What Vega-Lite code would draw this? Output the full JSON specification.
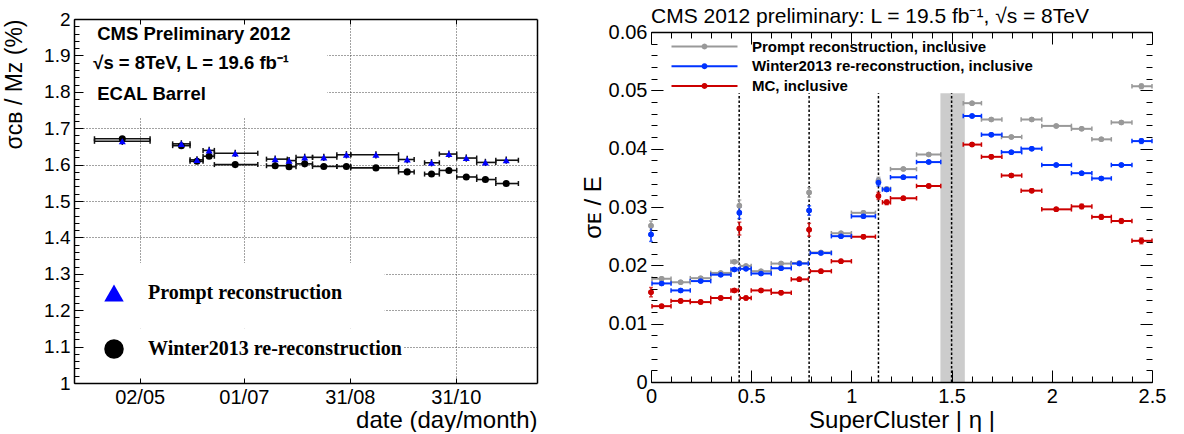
{
  "$schema": "https://vega.github.io/schema/vega-lite/v6.json",
  "background": "white",
  "padding": {"left": 3, "top": 6, "right": 0, "bottom": 0},
  "spacing": 44,
  "align": "none",
  "resolve": {
    "scale": {"color": "independent", "shape": "independent"},
    "legend": {"color": "independent", "shape": "independent"}
  },
  "datasets": {
    "timeline": [
      {"recon": "Winter2013 re-reconstruction", "date": "2012-04-22", "lo": "2012-04-06", "hi": "2012-05-08", "value": 1.671, "err": 0.005},
      {"recon": "Winter2013 re-reconstruction", "date": "2012-05-26", "lo": "2012-05-21", "hi": "2012-05-31", "value": 1.652, "err": 0.005},
      {"recon": "Winter2013 re-reconstruction", "date": "2012-06-04", "lo": "2012-05-31", "hi": "2012-06-07T12:00Z", "value": 1.609, "err": 0.005},
      {"recon": "Winter2013 re-reconstruction", "date": "2012-06-11", "lo": "2012-06-07T12:00Z", "hi": "2012-06-14", "value": 1.623, "err": 0.005},
      {"recon": "Winter2013 re-reconstruction", "date": "2012-06-26", "lo": "2012-06-14", "hi": "2012-07-09", "value": 1.600, "err": 0.005},
      {"recon": "Winter2013 re-reconstruction", "date": "2012-07-19", "lo": "2012-07-14", "hi": "2012-07-26", "value": 1.597, "err": 0.005},
      {"recon": "Winter2013 re-reconstruction", "date": "2012-07-27", "lo": "2012-07-26", "hi": "2012-07-31", "value": 1.594, "err": 0.005},
      {"recon": "Winter2013 re-reconstruction", "date": "2012-08-05", "lo": "2012-07-31", "hi": "2012-08-09T12:00Z", "value": 1.602, "err": 0.005},
      {"recon": "Winter2013 re-reconstruction", "date": "2012-08-16", "lo": "2012-08-09T12:00Z", "hi": "2012-08-23T12:00Z", "value": 1.595, "err": 0.005},
      {"recon": "Winter2013 re-reconstruction", "date": "2012-08-29", "lo": "2012-08-23T12:00Z", "hi": "2012-08-31T12:00Z", "value": 1.595, "err": 0.005},
      {"recon": "Winter2013 re-reconstruction", "date": "2012-09-15", "lo": "2012-08-31T12:00Z", "hi": "2012-09-28", "value": 1.591, "err": 0.005},
      {"recon": "Winter2013 re-reconstruction", "date": "2012-10-03", "lo": "2012-09-28", "hi": "2012-10-07", "value": 1.580, "err": 0.005},
      {"recon": "Winter2013 re-reconstruction", "date": "2012-10-17", "lo": "2012-10-13", "hi": "2012-10-21T12:00Z", "value": 1.574, "err": 0.005},
      {"recon": "Winter2013 re-reconstruction", "date": "2012-10-27", "lo": "2012-10-21T12:00Z", "hi": "2012-10-31T12:00Z", "value": 1.584, "err": 0.005},
      {"recon": "Winter2013 re-reconstruction", "date": "2012-11-06", "lo": "2012-10-31T12:00Z", "hi": "2012-11-12", "value": 1.566, "err": 0.005},
      {"recon": "Winter2013 re-reconstruction", "date": "2012-11-17", "lo": "2012-11-12", "hi": "2012-11-23", "value": 1.559, "err": 0.005},
      {"recon": "Winter2013 re-reconstruction", "date": "2012-11-29", "lo": "2012-11-23", "hi": "2012-12-06", "value": 1.548, "err": 0.005},
      {"recon": "Prompt reconstruction", "date": "2012-04-22", "lo": "2012-04-06", "hi": "2012-05-08", "value": 1.664, "err": 0.01},
      {"recon": "Prompt reconstruction", "date": "2012-05-26", "lo": "2012-05-21", "hi": "2012-05-31", "value": 1.657, "err": 0.01},
      {"recon": "Prompt reconstruction", "date": "2012-06-04", "lo": "2012-05-31", "hi": "2012-06-07T12:00Z", "value": 1.613, "err": 0.01},
      {"recon": "Prompt reconstruction", "date": "2012-06-11", "lo": "2012-06-07T12:00Z", "hi": "2012-06-14", "value": 1.639, "err": 0.01},
      {"recon": "Prompt reconstruction", "date": "2012-06-26", "lo": "2012-06-14", "hi": "2012-07-09", "value": 1.631, "err": 0.01},
      {"recon": "Prompt reconstruction", "date": "2012-07-19", "lo": "2012-07-14", "hi": "2012-07-26", "value": 1.615, "err": 0.01},
      {"recon": "Prompt reconstruction", "date": "2012-07-27", "lo": "2012-07-26", "hi": "2012-07-31", "value": 1.611, "err": 0.01},
      {"recon": "Prompt reconstruction", "date": "2012-08-05", "lo": "2012-07-31", "hi": "2012-08-09T12:00Z", "value": 1.620, "err": 0.01},
      {"recon": "Prompt reconstruction", "date": "2012-08-16", "lo": "2012-08-09T12:00Z", "hi": "2012-08-23T12:00Z", "value": 1.620, "err": 0.01},
      {"recon": "Prompt reconstruction", "date": "2012-08-29", "lo": "2012-08-23T12:00Z", "hi": "2012-08-31T12:00Z", "value": 1.627, "err": 0.01},
      {"recon": "Prompt reconstruction", "date": "2012-09-15", "lo": "2012-08-31T12:00Z", "hi": "2012-09-28", "value": 1.627, "err": 0.01},
      {"recon": "Prompt reconstruction", "date": "2012-10-03", "lo": "2012-09-28", "hi": "2012-10-07", "value": 1.614, "err": 0.01},
      {"recon": "Prompt reconstruction", "date": "2012-10-17", "lo": "2012-10-13", "hi": "2012-10-21T12:00Z", "value": 1.605, "err": 0.01},
      {"recon": "Prompt reconstruction", "date": "2012-10-27", "lo": "2012-10-21T12:00Z", "hi": "2012-10-31T12:00Z", "value": 1.629, "err": 0.01},
      {"recon": "Prompt reconstruction", "date": "2012-11-06", "lo": "2012-10-31T12:00Z", "hi": "2012-11-12", "value": 1.618, "err": 0.01},
      {"recon": "Prompt reconstruction", "date": "2012-11-17", "lo": "2012-11-12", "hi": "2012-11-23", "value": 1.606, "err": 0.01},
      {"recon": "Prompt reconstruction", "date": "2012-11-29", "lo": "2012-11-23", "hi": "2012-12-06", "value": 1.612, "err": 0.01}
    ],
    "boxes": [
      {"from": "2012-03-25", "to": "2012-08-18", "bottom": 1.73, "top": 2.0},
      {"from": "2012-03-25", "to": "2012-09-20", "bottom": 1.15, "top": 1.33},
      {"from": "2012-03-25", "to": "2012-10-01", "bottom": 1.0, "top": 1.15}
    ],
    "notes": [
      {"date": "2012-04-07T14:00Z", "value": 1.9415, "label": "CMS Preliminary 2012"},
      {"date": "2012-04-05T07:00Z", "value": 1.862, "label": "√s = 8TeV, L = 19.6 fb⁻¹"},
      {"date": "2012-04-07T14:00Z", "value": 1.777, "label": "ECAL Barrel"}
    ],
    "gap": [{"lo": 1.4442, "hi": 1.566}],
    "cracks": [{"eta": 0.44}, {"eta": 0.789}, {"eta": 1.135}, {"eta": 1.5}],
    "heading": [{"label": "CMS 2012 preliminary: L = 19.5 fb⁻¹, √s = 8TeV"}],
    "eta": [
      {"series": "Prompt reconstruction, inclusive", "eta": 0.0, "lo": 0.0, "hi": 0.0, "value": 0.0268, "err": 0.0008},
      {"series": "Prompt reconstruction, inclusive", "eta": 0.053, "lo": 0.005, "hi": 0.1, "value": 0.0177, "err": 0.0002},
      {"series": "Prompt reconstruction, inclusive", "eta": 0.148, "lo": 0.1, "hi": 0.196, "value": 0.0171, "err": 0.0002},
      {"series": "Prompt reconstruction, inclusive", "eta": 0.248, "lo": 0.196, "hi": 0.298, "value": 0.0178, "err": 0.0002},
      {"series": "Prompt reconstruction, inclusive", "eta": 0.348, "lo": 0.298, "hi": 0.399, "value": 0.0187, "err": 0.0002},
      {"series": "Prompt reconstruction, inclusive", "eta": 0.416, "lo": 0.399, "hi": 0.436, "value": 0.0206, "err": 0.0002},
      {"series": "Prompt reconstruction, inclusive", "eta": 0.441, "lo": 0.437, "hi": 0.445, "value": 0.0302, "err": 0.001},
      {"series": "Prompt reconstruction, inclusive", "eta": 0.474, "lo": 0.445, "hi": 0.5, "value": 0.0199, "err": 0.0002},
      {"series": "Prompt reconstruction, inclusive", "eta": 0.549, "lo": 0.5, "hi": 0.6, "value": 0.0190, "err": 0.0002},
      {"series": "Prompt reconstruction, inclusive", "eta": 0.649, "lo": 0.6, "hi": 0.7, "value": 0.0203, "err": 0.0002},
      {"series": "Prompt reconstruction, inclusive", "eta": 0.74, "lo": 0.7, "hi": 0.785, "value": 0.0204, "err": 0.0002},
      {"series": "Prompt reconstruction, inclusive", "eta": 0.789, "lo": 0.785, "hi": 0.793, "value": 0.0325, "err": 0.0008},
      {"series": "Prompt reconstruction, inclusive", "eta": 0.848, "lo": 0.795, "hi": 0.9, "value": 0.0222, "err": 0.0002},
      {"series": "Prompt reconstruction, inclusive", "eta": 0.948, "lo": 0.9, "hi": 1.0, "value": 0.0255, "err": 0.0002},
      {"series": "Prompt reconstruction, inclusive", "eta": 1.06, "lo": 1.0, "hi": 1.12, "value": 0.0290, "err": 0.0002},
      {"series": "Prompt reconstruction, inclusive", "eta": 1.135, "lo": 1.131, "hi": 1.139, "value": 0.0345, "err": 0.0006},
      {"series": "Prompt reconstruction, inclusive", "eta": 1.176, "lo": 1.155, "hi": 1.195, "value": 0.0331, "err": 0.0003},
      {"series": "Prompt reconstruction, inclusive", "eta": 1.259, "lo": 1.195, "hi": 1.325, "value": 0.0365, "err": 0.0002},
      {"series": "Prompt reconstruction, inclusive", "eta": 1.386, "lo": 1.325, "hi": 1.446, "value": 0.0390, "err": 0.0002},
      {"series": "Prompt reconstruction, inclusive", "eta": 1.602, "lo": 1.558, "hi": 1.649, "value": 0.0478, "err": 0.0002},
      {"series": "Prompt reconstruction, inclusive", "eta": 1.698, "lo": 1.649, "hi": 1.751, "value": 0.0450, "err": 0.0002},
      {"series": "Prompt reconstruction, inclusive", "eta": 1.798, "lo": 1.749, "hi": 1.85, "value": 0.0420, "err": 0.0002},
      {"series": "Prompt reconstruction, inclusive", "eta": 1.9, "lo": 1.847, "hi": 1.95, "value": 0.0450, "err": 0.0002},
      {"series": "Prompt reconstruction, inclusive", "eta": 2.022, "lo": 1.95, "hi": 2.098, "value": 0.0439, "err": 0.0002},
      {"series": "Prompt reconstruction, inclusive", "eta": 2.149, "lo": 2.098, "hi": 2.2, "value": 0.0434, "err": 0.0002},
      {"series": "Prompt reconstruction, inclusive", "eta": 2.247, "lo": 2.2, "hi": 2.297, "value": 0.0416, "err": 0.0002},
      {"series": "Prompt reconstruction, inclusive", "eta": 2.347, "lo": 2.297, "hi": 2.4, "value": 0.0445, "err": 0.0002},
      {"series": "Prompt reconstruction, inclusive", "eta": 2.447, "lo": 2.4, "hi": 2.5, "value": 0.0507, "err": 0.0004},
      {"series": "Winter2013 re-reconstruction, inclusive", "eta": 0.0, "lo": 0.0, "hi": 0.0, "value": 0.0253, "err": 0.0012},
      {"series": "Winter2013 re-reconstruction, inclusive", "eta": 0.053, "lo": 0.005, "hi": 0.1, "value": 0.0169, "err": 0.0002},
      {"series": "Winter2013 re-reconstruction, inclusive", "eta": 0.148, "lo": 0.1, "hi": 0.196, "value": 0.0157, "err": 0.0002},
      {"series": "Winter2013 re-reconstruction, inclusive", "eta": 0.248, "lo": 0.196, "hi": 0.298, "value": 0.0173, "err": 0.0002},
      {"series": "Winter2013 re-reconstruction, inclusive", "eta": 0.348, "lo": 0.298, "hi": 0.399, "value": 0.0184, "err": 0.0002},
      {"series": "Winter2013 re-reconstruction, inclusive", "eta": 0.416, "lo": 0.399, "hi": 0.436, "value": 0.0193, "err": 0.0002},
      {"series": "Winter2013 re-reconstruction, inclusive", "eta": 0.441, "lo": 0.437, "hi": 0.445, "value": 0.0290, "err": 0.001},
      {"series": "Winter2013 re-reconstruction, inclusive", "eta": 0.474, "lo": 0.445, "hi": 0.5, "value": 0.0194, "err": 0.0002},
      {"series": "Winter2013 re-reconstruction, inclusive", "eta": 0.549, "lo": 0.5, "hi": 0.6, "value": 0.0186, "err": 0.0002},
      {"series": "Winter2013 re-reconstruction, inclusive", "eta": 0.649, "lo": 0.6, "hi": 0.7, "value": 0.0195, "err": 0.0002},
      {"series": "Winter2013 re-reconstruction, inclusive", "eta": 0.74, "lo": 0.7, "hi": 0.785, "value": 0.0203, "err": 0.0002},
      {"series": "Winter2013 re-reconstruction, inclusive", "eta": 0.789, "lo": 0.785, "hi": 0.793, "value": 0.0294, "err": 0.0008},
      {"series": "Winter2013 re-reconstruction, inclusive", "eta": 0.848, "lo": 0.795, "hi": 0.9, "value": 0.0221, "err": 0.0002},
      {"series": "Winter2013 re-reconstruction, inclusive", "eta": 0.948, "lo": 0.9, "hi": 1.0, "value": 0.0250, "err": 0.0002},
      {"series": "Winter2013 re-reconstruction, inclusive", "eta": 1.06, "lo": 1.0, "hi": 1.12, "value": 0.0284, "err": 0.0002},
      {"series": "Winter2013 re-reconstruction, inclusive", "eta": 1.135, "lo": 1.131, "hi": 1.139, "value": 0.0342, "err": 0.0006},
      {"series": "Winter2013 re-reconstruction, inclusive", "eta": 1.176, "lo": 1.155, "hi": 1.195, "value": 0.0330, "err": 0.0003},
      {"series": "Winter2013 re-reconstruction, inclusive", "eta": 1.259, "lo": 1.195, "hi": 1.325, "value": 0.0351, "err": 0.0002},
      {"series": "Winter2013 re-reconstruction, inclusive", "eta": 1.386, "lo": 1.325, "hi": 1.446, "value": 0.0377, "err": 0.0002},
      {"series": "Winter2013 re-reconstruction, inclusive", "eta": 1.602, "lo": 1.558, "hi": 1.649, "value": 0.0456, "err": 0.0002},
      {"series": "Winter2013 re-reconstruction, inclusive", "eta": 1.698, "lo": 1.649, "hi": 1.751, "value": 0.0424, "err": 0.0002},
      {"series": "Winter2013 re-reconstruction, inclusive", "eta": 1.798, "lo": 1.749, "hi": 1.85, "value": 0.0394, "err": 0.0002},
      {"series": "Winter2013 re-reconstruction, inclusive", "eta": 1.9, "lo": 1.847, "hi": 1.95, "value": 0.0400, "err": 0.0002},
      {"series": "Winter2013 re-reconstruction, inclusive", "eta": 2.022, "lo": 1.95, "hi": 2.098, "value": 0.0372, "err": 0.0002},
      {"series": "Winter2013 re-reconstruction, inclusive", "eta": 2.149, "lo": 2.098, "hi": 2.2, "value": 0.0358, "err": 0.0002},
      {"series": "Winter2013 re-reconstruction, inclusive", "eta": 2.247, "lo": 2.2, "hi": 2.297, "value": 0.0349, "err": 0.0002},
      {"series": "Winter2013 re-reconstruction, inclusive", "eta": 2.347, "lo": 2.297, "hi": 2.4, "value": 0.0372, "err": 0.0002},
      {"series": "Winter2013 re-reconstruction, inclusive", "eta": 2.447, "lo": 2.4, "hi": 2.5, "value": 0.0413, "err": 0.0004},
      {"series": "MC, inclusive", "eta": 0.0, "lo": 0.0, "hi": 0.0, "value": 0.0154, "err": 0.0008},
      {"series": "MC, inclusive", "eta": 0.053, "lo": 0.005, "hi": 0.1, "value": 0.0130, "err": 0.0003},
      {"series": "MC, inclusive", "eta": 0.148, "lo": 0.1, "hi": 0.196, "value": 0.0139, "err": 0.0003},
      {"series": "MC, inclusive", "eta": 0.248, "lo": 0.196, "hi": 0.298, "value": 0.0137, "err": 0.0003},
      {"series": "MC, inclusive", "eta": 0.348, "lo": 0.298, "hi": 0.399, "value": 0.0144, "err": 0.0003},
      {"series": "MC, inclusive", "eta": 0.416, "lo": 0.399, "hi": 0.436, "value": 0.0157, "err": 0.0003},
      {"series": "MC, inclusive", "eta": 0.441, "lo": 0.437, "hi": 0.445, "value": 0.0263, "err": 0.0011},
      {"series": "MC, inclusive", "eta": 0.474, "lo": 0.445, "hi": 0.5, "value": 0.0144, "err": 0.0003},
      {"series": "MC, inclusive", "eta": 0.549, "lo": 0.5, "hi": 0.6, "value": 0.0157, "err": 0.0003},
      {"series": "MC, inclusive", "eta": 0.649, "lo": 0.6, "hi": 0.7, "value": 0.0153, "err": 0.0003},
      {"series": "MC, inclusive", "eta": 0.74, "lo": 0.7, "hi": 0.785, "value": 0.0176, "err": 0.0003},
      {"series": "MC, inclusive", "eta": 0.789, "lo": 0.785, "hi": 0.793, "value": 0.0261, "err": 0.0011},
      {"series": "MC, inclusive", "eta": 0.848, "lo": 0.795, "hi": 0.9, "value": 0.0190, "err": 0.0003},
      {"series": "MC, inclusive", "eta": 0.948, "lo": 0.9, "hi": 1.0, "value": 0.0207, "err": 0.0003},
      {"series": "MC, inclusive", "eta": 1.06, "lo": 1.0, "hi": 1.12, "value": 0.0249, "err": 0.0003},
      {"series": "MC, inclusive", "eta": 1.135, "lo": 1.131, "hi": 1.139, "value": 0.0319, "err": 0.0006},
      {"series": "MC, inclusive", "eta": 1.176, "lo": 1.155, "hi": 1.195, "value": 0.0308, "err": 0.0004},
      {"series": "MC, inclusive", "eta": 1.259, "lo": 1.195, "hi": 1.325, "value": 0.0315, "err": 0.0003},
      {"series": "MC, inclusive", "eta": 1.386, "lo": 1.325, "hi": 1.446, "value": 0.0336, "err": 0.0003},
      {"series": "MC, inclusive", "eta": 1.602, "lo": 1.558, "hi": 1.649, "value": 0.0407, "err": 0.0003},
      {"series": "MC, inclusive", "eta": 1.698, "lo": 1.649, "hi": 1.751, "value": 0.0386, "err": 0.0003},
      {"series": "MC, inclusive", "eta": 1.798, "lo": 1.749, "hi": 1.85, "value": 0.0354, "err": 0.0003},
      {"series": "MC, inclusive", "eta": 1.9, "lo": 1.847, "hi": 1.95, "value": 0.0328, "err": 0.0003},
      {"series": "MC, inclusive", "eta": 2.022, "lo": 1.95, "hi": 2.098, "value": 0.0296, "err": 0.0003},
      {"series": "MC, inclusive", "eta": 2.149, "lo": 2.098, "hi": 2.2, "value": 0.0301, "err": 0.0004},
      {"series": "MC, inclusive", "eta": 2.247, "lo": 2.2, "hi": 2.297, "value": 0.0283, "err": 0.0004},
      {"series": "MC, inclusive", "eta": 2.347, "lo": 2.297, "hi": 2.4, "value": 0.0276, "err": 0.0004},
      {"series": "MC, inclusive", "eta": 2.447, "lo": 2.4, "hi": 2.5, "value": 0.0242, "err": 0.0005}
    ]
  },
  "hconcat": [
    {
      "width": 463,
      "height": 364,
      "layer": [
        {
          "data": {"name": "boxes"},
          "mark": {"type": "rect", "fill": "white", "strokeWidth": 0},
          "encoding": {
            "x": {"field": "from", "type": "temporal",
              "scale": {"type": "utc", "nice": false, "domain": [{"year": 2012, "month": 3, "date": 25, "hours": 5, "utc": true}, {"year": 2012, "month": 12, "date": 16, "hours": 17, "utc": true}]},
              "axis": {"orient": "bottom", "grid": true, "gridDash": [1, 2], "gridColor": "#444", "gridWidth": 1, "domain": false, "ticks": false, "labels": false, "title": null, "zindex": 0,
                "values": [{"year": 2012, "month": 5, "date": 2, "utc": true}, {"year": 2012, "month": 7, "date": 1, "utc": true}, {"year": 2012, "month": 8, "date": 31, "utc": true}, {"year": 2012, "month": 10, "date": 31, "utc": true}]}},
            "x2": {"field": "to"},
            "y": {"field": "bottom", "type": "quantitative", "scale": {"domain": [1, 2], "nice": false, "zero": false},
              "axis": {"orient": "left", "grid": true, "gridDash": [1, 2], "gridColor": "#444", "gridWidth": 1, "domain": false, "ticks": false, "labels": false, "title": null, "zindex": 0,
                "values": [1.1, 1.2, 1.3, 1.4, 1.5, 1.6, 1.7, 1.8, 1.9]}},
            "y2": {"field": "top"}
          }
        },
        {
          "data": {"name": "timeline"},
          "mark": {"type": "rule", "color": "#111", "strokeWidth": 1.6},
          "encoding": {
            "x": {"field": "lo", "type": "temporal",
              "axis": {"orient": "bottom", "format": "%d/%m", "title": "date (day/month)", "titleAnchor": "end", "titleFontSize": 24, "titlePadding": 1,
                "labelFontSize": 20, "tickSize": -5, "labelPadding": 9, "domain": true, "ticks": true, "zindex": 1,
                "values": [{"year": 2012, "month": 5, "date": 2, "utc": true}, {"year": 2012, "month": 7, "date": 1, "utc": true}, {"year": 2012, "month": 8, "date": 31, "utc": true}, {"year": 2012, "month": 10, "date": 31, "utc": true}]}},
            "x2": {"field": "hi"},
            "y": {"field": "value", "type": "quantitative",
              "axis": {"orient": "left", "format": "~g", "title": "σᴄʙ / Mᴢ (%)", "titleAnchor": "end", "titleFontSize": 23, "titlePadding": 17,
                "labelFontSize": 19, "tickSize": -9, "labelPadding": 13, "tickCount": 10, "domain": true, "zindex": 1}}
          }
        },
        {
          "data": {"name": "timeline"},
          "mark": {"type": "tick", "orient": "vertical", "color": "#111", "size": 5, "thickness": 1.5, "opacity": 1},
          "encoding": {
            "x": {"field": "lo", "type": "temporal",
              "axis": {"orient": "top", "labels": false, "title": null, "tickSize": -5, "domain": true, "zindex": 1,
                "values": [{"year": 2012, "month": 5, "date": 2, "utc": true}, {"year": 2012, "month": 7, "date": 1, "utc": true}, {"year": 2012, "month": 8, "date": 31, "utc": true}, {"year": 2012, "month": 10, "date": 31, "utc": true}]}},
            "y": {"field": "value", "type": "quantitative",
              "axis": {"orient": "left", "labels": false, "title": null, "tickSize": -5, "tickCount": 50, "domain": false, "zindex": 1}}
          }
        },
        {
          "data": {"name": "timeline"},
          "mark": {"type": "tick", "orient": "vertical", "color": "#111", "size": 5, "thickness": 1.5, "opacity": 1},
          "encoding": {
            "x": {"field": "hi", "type": "temporal", "axis": null},
            "y": {"field": "value", "type": "quantitative",
              "axis": {"orient": "right", "labels": false, "ticks": false, "title": null, "domain": true, "zindex": 1}}
          }
        },
        {
          "data": {"name": "timeline"},
          "transform": [{"filter": "datum.recon === 'Prompt reconstruction'"}],
          "mark": {"type": "errorbar", "color": "#111", "thickness": 1.5},
          "encoding": {
            "x": {"field": "date", "type": "temporal", "axis": null},
            "y": {"field": "value", "type": "quantitative", "axis": null, "title": null},
            "yError": {"field": "err"}
          }
        },
        {
          "data": {"name": "timeline"},
          "mark": {"type": "point", "filled": true, "opacity": 1, "size": 50, "strokeWidth": 0},
          "encoding": {
            "x": {"field": "date", "type": "temporal", "axis": null},
            "y": {"field": "value", "type": "quantitative", "axis": null},
            "shape": {"field": "recon", "type": "nominal",
              "scale": {"domain": ["Prompt reconstruction", "Winter2013 re-reconstruction"], "range": ["triangle-up", "circle"]},
              "legend": {"title": null, "orient": "bottom-left", "offset": 24, "padding": 0, "symbolSize": 380, "symbolStrokeWidth": 0, "symbolOffset": 6, "labelOffset": 24, "rowPadding": 36, "labelFont": "Liberation Serif", "labelFontWeight": "bold", "labelFontSize": 20, "labelLimit": 400}},
            "color": {"field": "recon", "type": "nominal",
              "scale": {"domain": ["Prompt reconstruction", "Winter2013 re-reconstruction"], "range": ["#0000ff", "#000000"]},
              "legend": {"title": null, "orient": "bottom-left", "offset": 24, "padding": 0, "symbolSize": 380, "symbolStrokeWidth": 0, "symbolOffset": 6, "labelOffset": 24, "rowPadding": 36, "labelFont": "Liberation Serif", "labelFontWeight": "bold", "labelFontSize": 20, "labelLimit": 400}}
          }
        },
        {
          "data": {"name": "notes"},
          "mark": {"type": "text", "align": "left", "baseline": "alphabetic", "fontWeight": "bold", "fontSize": 18.5, "font": "Liberation Sans", "color": "black"},
          "encoding": {
            "x": {"field": "date", "type": "temporal", "axis": null},
            "y": {"field": "value", "type": "quantitative", "axis": null},
            "text": {"field": "label"}
          }
        }
      ],
      "resolve": {"axis": {"x": "independent", "y": "independent"}}
    },
    {
      "width": 501,
      "height": 363,
      "layer": [
        {
          "data": {"name": "gap"},
          "mark": {"type": "rect", "color": "#cccccc", "opacity": 1},
          "encoding": {
            "x": {"field": "lo", "type": "quantitative", "scale": {"domain": [0, 2.5], "nice": false},
              "axis": {"orient": "bottom", "format": "~g", "tickCount": 5, "title": "SuperCluster | η |", "titleFontSize": 24, "titlePadding": 2,
                "labelFontSize": 20, "tickSize": -12, "labelPadding": 16, "domain": true, "zindex": 1}},
            "x2": {"field": "hi"},
            "y": {"datum": 0, "type": "quantitative", "scale": {"domain": [0, 0.062229], "nice": false, "zero": false},
              "axis": {"orient": "left", "format": "~g", "values": [0, 0.01, 0.02, 0.03, 0.04, 0.05, 0.06], "title": "σᴇ / E", "titleFontSize": 24, "titlePadding": 3, "titleY": 188,
                "labelFontSize": 20, "tickSize": -12, "labelPadding": 16, "domain": false, "zindex": 1}},
            "y2": {"datum": 0.0495}
          }
        },
        {
          "data": {"name": "cracks"},
          "mark": {"type": "rule", "color": "black", "strokeWidth": 1.5, "strokeDash": [2.5, 2]},
          "encoding": {
            "x": {"field": "eta", "type": "quantitative",
              "axis": {"orient": "bottom", "labels": false, "title": null, "tickCount": 25, "tickSize": -6, "domain": false, "zindex": 1}},
            "y": {"datum": 0, "type": "quantitative",
              "axis": {"orient": "left", "labels": false, "title": null, "tickSize": -6, "domain": false, "zindex": 1,
                "values": [0, 0.002, 0.004, 0.006, 0.008, 0.01, 0.012, 0.014, 0.016, 0.018, 0.02, 0.022, 0.024, 0.026, 0.028, 0.03, 0.032, 0.034, 0.036, 0.038, 0.04, 0.042, 0.044, 0.046, 0.048, 0.05, 0.052, 0.054, 0.056, 0.058, 0.06]}},
            "y2": {"datum": 0.0495}
          }
        },
        {
          "mark": {"type": "rule", "color": "black", "strokeWidth": 1.5},
          "encoding": {
            "x": {"datum": 0, "type": "quantitative", "axis": null},
            "y": {"datum": 0, "type": "quantitative", "axis": null},
            "y2": {"datum": 0.06}
          }
        },
        {
          "mark": {"type": "rule", "color": "black", "strokeWidth": 1.5},
          "encoding": {
            "x": {"datum": 2.5, "type": "quantitative", "axis": null},
            "y": {"datum": 0, "type": "quantitative", "axis": null},
            "y2": {"datum": 0.06}
          }
        },
        {
          "data": {"name": "eta"},
          "mark": {"type": "point", "filled": true, "opacity": 1, "size": 30, "strokeWidth": 0},
          "encoding": {
            "x": {"field": "eta", "type": "quantitative",
              "axis": {"orient": "top", "offset": -13, "labels": false, "title": null, "tickCount": 5, "tickSize": -12, "domain": true, "zindex": 1}},
            "y": {"field": "value", "type": "quantitative",
              "axis": {"orient": "right", "labels": false, "title": null, "values": [0, 0.01, 0.02, 0.03, 0.04, 0.05, 0.06], "tickSize": -12, "domain": false, "zindex": 1}},
            "color": {"field": "series", "type": "nominal",
              "scale": {"domain": ["Prompt reconstruction, inclusive", "Winter2013 re-reconstruction, inclusive", "MC, inclusive"], "range": ["#999999", "#0033ff", "#cc0000"]},
              "legend": {"title": null, "orient": "none", "legendX": 7, "legendY": 20, "padding": 0, "symbolType": "M-11,-0.33L11,-0.33L11,0.33L-11,0.33Z M1,0L0.87,0.5L0.5,0.87L0,1L-0.5,0.87L-0.87,0.5L-1,0L-0.87,-0.5L-0.5,-0.87L0,-1L0.5,-0.87L0.87,-0.5Z", "symbolSize": 36, "symbolStrokeWidth": 0, "symbolOffset": 39, "labelOffset": 40, "rowPadding": 3.7, "labelFontSize": 15, "labelFontWeight": "bold", "labelLimit": 500}}
          }
        },
        {
          "data": {"name": "eta"},
          "mark": {"type": "rule", "strokeWidth": 2},
          "encoding": {
            "x": {"field": "lo", "type": "quantitative",
              "axis": {"orient": "top", "offset": -13, "labels": false, "title": null, "tickCount": 25, "tickSize": -6, "domain": false, "zindex": 1}},
            "x2": {"field": "hi"},
            "y": {"field": "value", "type": "quantitative",
              "axis": {"orient": "right", "labels": false, "title": null, "tickSize": -6, "domain": false, "zindex": 1,
                "values": [0, 0.002, 0.004, 0.006, 0.008, 0.01, 0.012, 0.014, 0.016, 0.018, 0.02, 0.022, 0.024, 0.026, 0.028, 0.03, 0.032, 0.034, 0.036, 0.038, 0.04, 0.042, 0.044, 0.046, 0.048, 0.05, 0.052, 0.054, 0.056, 0.058, 0.06]}},
            "color": {"field": "series", "type": "nominal",
              "legend": {"title": null, "orient": "none", "legendX": 7, "legendY": 20, "padding": 0, "symbolType": "M-11,-0.33L11,-0.33L11,0.33L-11,0.33Z M1,0L0.87,0.5L0.5,0.87L0,1L-0.5,0.87L-0.87,0.5L-1,0L-0.87,-0.5L-0.5,-0.87L0,-1L0.5,-0.87L0.87,-0.5Z", "symbolSize": 36, "symbolStrokeWidth": 0, "symbolOffset": 39, "labelOffset": 40, "rowPadding": 3.7, "labelFontSize": 15, "labelFontWeight": "bold", "labelLimit": 500}}
          }
        },
        {
          "data": {"name": "eta"},
          "mark": {"type": "tick", "orient": "vertical", "size": 4.5, "thickness": 1.5, "opacity": 1},
          "encoding": {
            "x": {"field": "lo", "type": "quantitative", "axis": null},
            "y": {"field": "value", "type": "quantitative", "axis": null},
            "color": {"field": "series", "type": "nominal",
              "legend": {"title": null, "orient": "none", "legendX": 7, "legendY": 20, "padding": 0, "symbolType": "M-11,-0.33L11,-0.33L11,0.33L-11,0.33Z M1,0L0.87,0.5L0.5,0.87L0,1L-0.5,0.87L-0.87,0.5L-1,0L-0.87,-0.5L-0.5,-0.87L0,-1L0.5,-0.87L0.87,-0.5Z", "symbolSize": 36, "symbolStrokeWidth": 0, "symbolOffset": 39, "labelOffset": 40, "rowPadding": 3.7, "labelFontSize": 15, "labelFontWeight": "bold", "labelLimit": 500}}
          }
        },
        {
          "data": {"name": "eta"},
          "mark": {"type": "tick", "orient": "vertical", "size": 4.5, "thickness": 1.5, "opacity": 1},
          "encoding": {
            "x": {"field": "hi", "type": "quantitative", "axis": null},
            "y": {"field": "value", "type": "quantitative", "axis": null},
            "color": {"field": "series", "type": "nominal",
              "legend": {"title": null, "orient": "none", "legendX": 7, "legendY": 20, "padding": 0, "symbolType": "M-11,-0.33L11,-0.33L11,0.33L-11,0.33Z M1,0L0.87,0.5L0.5,0.87L0,1L-0.5,0.87L-0.87,0.5L-1,0L-0.87,-0.5L-0.5,-0.87L0,-1L0.5,-0.87L0.87,-0.5Z", "symbolSize": 36, "symbolStrokeWidth": 0, "symbolOffset": 39, "labelOffset": 40, "rowPadding": 3.7, "labelFontSize": 15, "labelFontWeight": "bold", "labelLimit": 500}}
          }
        },
        {
          "data": {"name": "eta"},
          "mark": {"type": "errorbar", "thickness": 1.5, "ticks": {"size": 4, "thickness": 1.5}},
          "encoding": {
            "x": {"field": "eta", "type": "quantitative", "axis": null},
            "y": {"field": "value", "type": "quantitative", "axis": null, "title": null},
            "yError": {"field": "err"},
            "color": {"field": "series", "type": "nominal",
              "legend": {"title": null, "orient": "none", "legendX": 7, "legendY": 20, "padding": 0, "symbolType": "M-11,-0.33L11,-0.33L11,0.33L-11,0.33Z M1,0L0.87,0.5L0.5,0.87L0,1L-0.5,0.87L-0.87,0.5L-1,0L-0.87,-0.5L-0.5,-0.87L0,-1L0.5,-0.87L0.87,-0.5Z", "symbolSize": 36, "symbolStrokeWidth": 0, "symbolOffset": 39, "labelOffset": 40, "rowPadding": 3.7, "labelFontSize": 15, "labelFontWeight": "bold", "labelLimit": 500}}
          }
        },
        {
          "data": {"name": "eta"},
          "mark": {"type": "point", "filled": true, "opacity": 1, "size": 30, "strokeWidth": 0},
          "encoding": {
            "x": {"field": "eta", "type": "quantitative", "axis": null},
            "y": {"field": "value", "type": "quantitative", "axis": null},
            "color": {"field": "series", "type": "nominal",
              "legend": {"title": null, "orient": "none", "legendX": 7, "legendY": 20, "padding": 0, "symbolType": "M-11,-0.33L11,-0.33L11,0.33L-11,0.33Z M1,0L0.87,0.5L0.5,0.87L0,1L-0.5,0.87L-0.87,0.5L-1,0L-0.87,-0.5L-0.5,-0.87L0,-1L0.5,-0.87L0.87,-0.5Z", "symbolSize": 36, "symbolStrokeWidth": 0, "symbolOffset": 39, "labelOffset": 40, "rowPadding": 3.7, "labelFontSize": 15, "labelFontWeight": "bold", "labelLimit": 500}}
          }
        },
        {
          "data": {"name": "heading"},
          "mark": {"type": "text", "align": "left", "baseline": "alphabetic", "fontSize": 21, "font": "Liberation Sans", "color": "black"},
          "encoding": {
            "x": {"datum": 0, "type": "quantitative", "axis": null},
            "y": {"datum": 0.06154, "type": "quantitative", "axis": null},
            "text": {"field": "label"}
          }
        }
      ],
      "resolve": {"axis": {"x": "independent", "y": "independent"}}
    }
  ],
  "config": {
    "view": {"stroke": null},
    "font": "Liberation Sans",
    "axis": {"labelColor": "black", "titleColor": "black", "tickColor": "black", "domainColor": "black", "domainWidth": 1.5, "tickWidth": 1, "labelFont": "Liberation Sans", "titleFont": "Liberation Sans", "titleFontWeight": "normal", "grid": false, "labelFlush": false, "labelOverlap": false},
    "legend": {"labelColor": "black"},
    "title": {"color": "black"}
  }
}
